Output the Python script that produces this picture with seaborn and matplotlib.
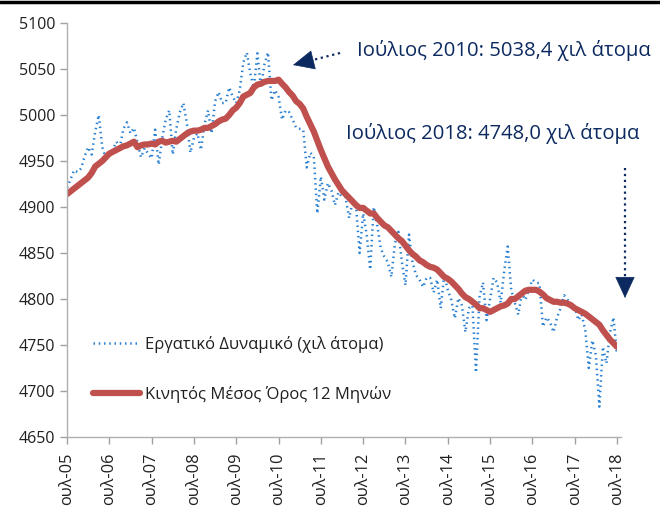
import numpy as np
import pandas as pd
import matplotlib
matplotlib.use('Agg')
import matplotlib.pyplot as plt
import seaborn as sns
from matplotlib.lines import Line2D

# Monthly data, July 2005 - July 2018 (thousand persons)
labour_force = [
    4921, 4930, 4940, 4938, 4942, 4955, 4965, 4957, 4982, 5000, 4965, 4953,
    4959, 4962, 4971, 4965, 4985, 4992, 4980, 4986, 4970, 4954, 4964, 4958,
    4953, 4984, 4946, 4975, 4995, 5005, 4957, 4985, 5003, 5013, 4991, 4959,
    4975, 4980, 4962, 4990, 5005, 4980, 5015, 5025, 5013, 5013, 5030, 5020,
    5013, 5027, 5057, 5068, 5045, 5030, 5067, 5030, 5055, 5068, 5016, 5027,
    5020, 4995, 5005, 5003, 4995, 4986, 4985, 4984, 4943, 4959, 4955, 4893,
    4933, 4908, 4926, 4918, 4902, 4916, 4911, 4911, 4888, 4905, 4900, 4850,
    4893, 4870, 4832, 4900, 4880, 4855, 4846, 4840, 4824, 4860, 4873, 4840,
    4815, 4870, 4840, 4826, 4821, 4813, 4823, 4823, 4807, 4821, 4790, 4826,
    4810, 4799, 4779, 4801, 4793, 4764, 4790, 4793, 4720, 4802, 4818, 4777,
    4800, 4823, 4818, 4796, 4830, 4857, 4810, 4796, 4783, 4806, 4799, 4810,
    4821, 4818, 4817, 4770, 4780, 4775, 4764, 4780, 4790, 4804, 4799, 4795,
    4793, 4777, 4783, 4766, 4725, 4755, 4739, 4683, 4748, 4730, 4763, 4780, 4739,
]

moving_avg = [
    4914, 4917, 4920, 4923, 4926, 4929, 4932, 4937, 4944, 4947, 4950, 4954,
    4958, 4960, 4962, 4964, 4966, 4967, 4969, 4971, 4965, 4967, 4968, 4968,
    4969, 4968, 4971, 4972, 4970, 4971, 4972, 4971, 4974, 4977, 4980, 4982,
    4983, 4983, 4984, 4986, 4986, 4988, 4990, 4993, 4995, 4996, 5000, 5005,
    5008, 5013, 5020, 5022, 5024, 5030, 5033, 5034, 5036, 5037, 5037, 5037,
    5038.4, 5034, 5030, 5025, 5021, 5015, 5012, 5007, 4998, 4990, 4982, 4972,
    4962, 4953, 4944, 4937, 4930, 4924, 4918, 4914, 4910, 4906, 4902, 4899,
    4899, 4896, 4893, 4893, 4888, 4884, 4880, 4878, 4874, 4870, 4866, 4863,
    4858, 4853, 4849, 4846, 4842, 4840, 4837, 4835, 4834, 4832, 4828, 4824,
    4822, 4819, 4815, 4811, 4806, 4802, 4800, 4797, 4794, 4790, 4790, 4788,
    4786, 4788, 4790, 4792, 4793, 4795, 4800, 4800, 4803, 4806, 4809, 4810,
    4810, 4810, 4808, 4805, 4801, 4799, 4797, 4797, 4796, 4796, 4795, 4793,
    4790, 4788, 4786, 4784, 4781, 4778, 4775, 4772, 4766, 4761, 4756, 4752, 4748,
]

tick_labels = ['ουλ-05', 'ουλ-06', 'ουλ-07', 'ουλ-08', 'ουλ-09', 'ουλ-10', 'ουλ-11',
               'ουλ-12', 'ουλ-13', 'ουλ-14', 'ουλ-15', 'ουλ-16', 'ουλ-17', 'ουλ-18']
y_ticks = [4650, 4700, 4750, 4800, 4850, 4900, 4950, 5000, 5050, 5100]

label_lf = 'Εργατικό Δυναμικό (χιλ άτομα)'
label_ma = 'Κινητός Μέσος Όρος 12 Μηνών'
note_2010 = 'Ιούλιος 2010: 5038,4 χιλ άτομα'
note_2018 = 'Ιούλιος 2018: 4748,0 χιλ άτομα'

df = pd.DataFrame({'month': np.arange(len(labour_force)),
                   'lf': labour_force, 'ma': moving_avg})

sns.set_style('white')
plt.rcParams['font.family'] = ['Open Sans', 'DejaVu Sans']

fig = plt.figure(figsize=(6.6, 5.07), dpi=100)
ax = fig.add_axes([67 / 660, 1 - 437 / 507, (617 - 67) / 660, (437 - 23) / 507])

sns.lineplot(data=df, x='month', y='lf', ax=ax, color='#2a80d2', linewidth=1.8,
             linestyle=(0, (0.6, 1.5)), label=label_lf)
sns.lineplot(data=df, x='month', y='ma', ax=ax, color='#c0504d', linewidth=4.5,
             solid_capstyle='round', label=label_ma)

ax.set_xlim(0, 156)
ax.set_ylim(4650, 5100)
ax.set_xticks(np.arange(0, 157, 12))
ax.set_xticklabels(tick_labels, rotation=90)
ax.set_yticks(y_ticks)
ax.set_xlabel('')
ax.set_ylabel('')
ax.tick_params(axis='both', labelsize=11.5, length=5, width=1, direction='out',
               left=True, bottom=True, color='#a0a0a0', labelcolor='#202020')
ax.tick_params(axis='x', pad=6, labelsize=11.8)
for s in ['top', 'right']:
    ax.spines[s].set_visible(False)
for s in ['left', 'bottom']:
    ax.spines[s].set_color('#b0b0b0')
    ax.spines[s].set_linewidth(1)
ax.spines['bottom'].set_bounds(0, 157)

leg = ax.legend(loc='upper left', bbox_to_anchor=(0.02, 0.28), frameon=False,
                fontsize=12, handlelength=2.8, handletextpad=0.3, labelspacing=1.95)
for t in leg.get_texts():
    t.set_color('#202020')

navy = '#0c2a60'
fig.text(357 / 660, 1 - 50 / 507, note_2010, fontsize=14.6, color=navy,
         va='center', ha='left')
fig.text(346 / 660, 1 - 133 / 507, note_2018, fontsize=14.6, color=navy,
         va='center', ha='left')


def pointer(tail, tip, neck):
    # dotted shaft plus a solid triangular head, in pixel coords of the figure
    fx = lambda p: (p[0] / 660, 1 - p[1] / 507)
    t, n, h = fx(tail), fx(neck), fx(tip)
    fig.add_artist(Line2D([t[0], n[0]], [t[1], n[1]], color=navy, linestyle=':',
                          linewidth=1.6, transform=fig.transFigure))
    ax.annotate('', xy=h, xytext=n, xycoords='figure fraction',
                textcoords='figure fraction', annotation_clip=False,
                arrowprops=dict(arrowstyle='-|>,head_length=1.3,head_width=0.6',
                                mutation_scale=11, color=navy, linewidth=0.5,
                                shrinkA=0, shrinkB=0))


pointer(tail=(340, 53), tip=(293, 65), neck=(307, 61.5))
pointer(tail=(625, 168), tip=(625, 298), neck=(625, 283))

# black rule at top of the figure
fig.add_artist(Line2D([0, 1], [1 - 1.5 / 507, 1 - 1.5 / 507], color='black',
                      linewidth=2.5, transform=fig.transFigure))

fig.savefig('out.png', dpi=100)
